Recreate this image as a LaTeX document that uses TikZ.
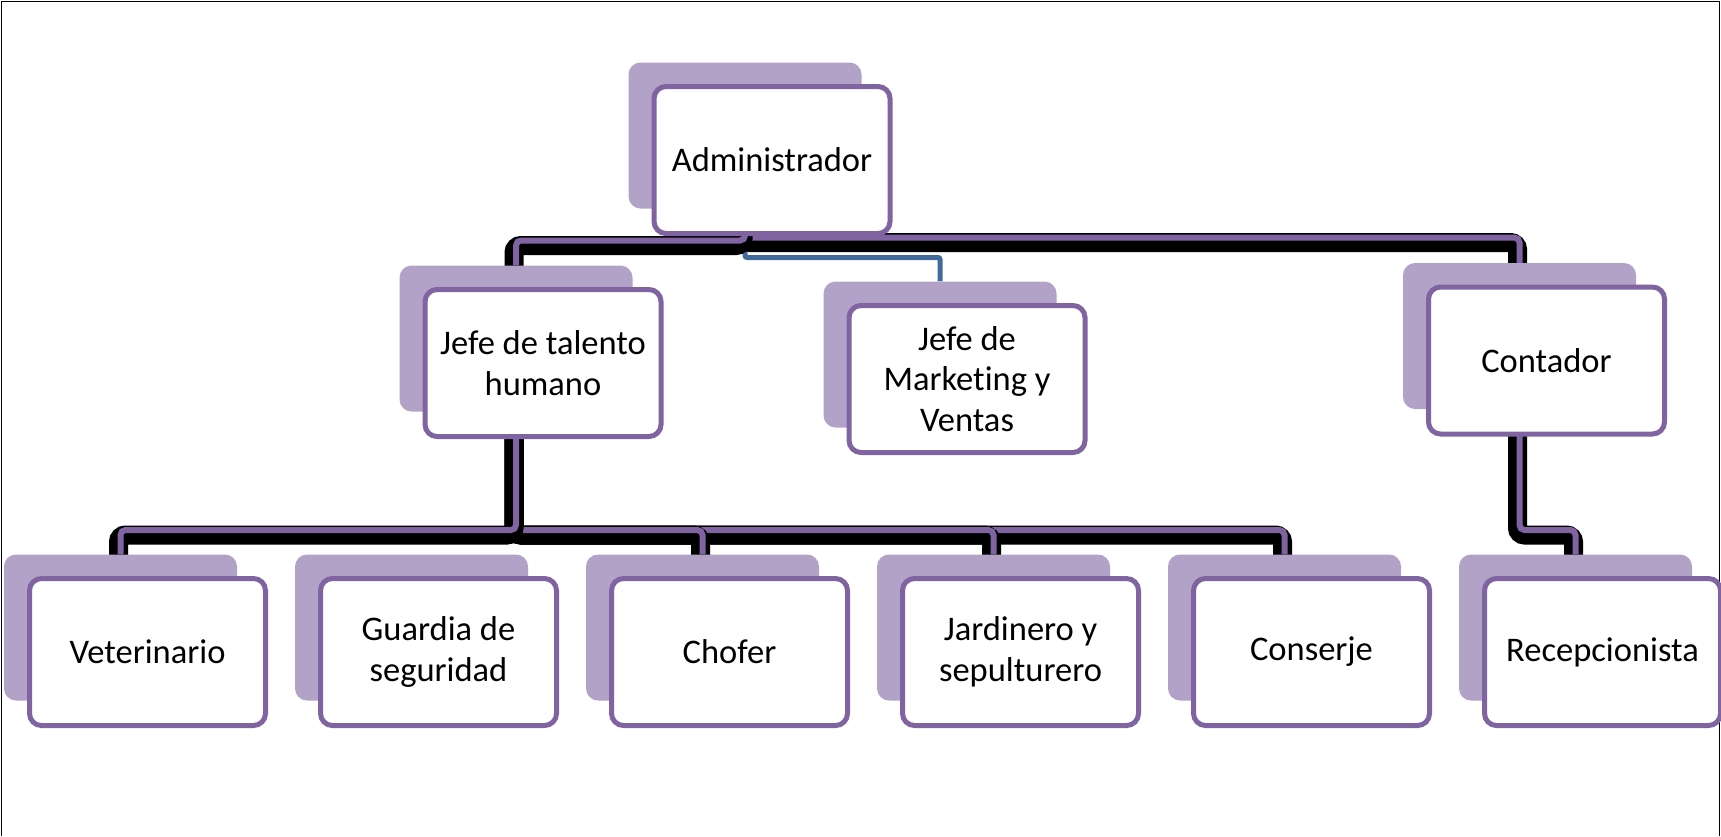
\documentclass[tikz,border=0pt]{standalone}
\usepackage{fontspec}
\setmainfont{Carlito}[Ligatures=NoCommon]
\usetikzlibrary{calc,backgrounds}
\definecolor{purp}{HTML}{8064A2}
\definecolor{lilac}{HTML}{B3A2C7}
\definecolor{blueln}{HTML}{41699A}
\tikzset{
 shbox/.style={fill=lilac, rounded corners=12pt, minimum width=233pt, minimum height=146pt, inner sep=0pt},
 fbox/.style={draw=purp, line width=5pt, fill=white, rounded corners=12pt, minimum width=236pt, minimum height=147pt, inner sep=0pt, align=center, font=\fontsize{34.5}{40.5}\selectfont},
 blackln/.style={draw=black, line width=19pt, rounded corners=7pt, transform canvas={xshift=-2pt,yshift=-5pt}},
 purpln/.style={draw=purp, line width=6pt, rounded corners=5pt},
 bluecon/.style={draw=blueln, line width=5pt, rounded corners=2pt},
 frameln/.style={draw=black, line width=1.8pt}
}
\newcommand\orgbox[3]{\node[shbox] (#1-s) at ($(#2)+(-27,-24.5)$) {}; \node[fbox] (#1) at (#2) {#3};}
\newcommand\orgconn[1]{\draw[blackln] #1; \draw[purpln] #1;}
\begin{document}
\begin{tikzpicture}[x=1pt,y=-1pt]
\useasboundingbox (0,0) rectangle (1721,836);
\draw[frameln] (1.5,836) -- (1.5,1.5) -- (1719.5,1.5) -- (1719.5,836);
\orgbox{adm}{772,160}{Administrador}
\orgbox{tal}{543,363}{Jefe de talento\\humano}
\orgbox{mkt}{967,379}{Jefe de\\Marketing y\\Ventas}
\orgbox{con}{1546.5,360.5}{Contador}
\orgbox{vet}{147.5,652}{Veterinario}
\orgbox{gua}{438.5,652}{Guardia de\\seguridad}
\orgbox{cho}{729.5,652}{Chofer}
\orgbox{jar}{1020.5,652}{Jardinero y\\sepulturero}
\orgbox{cons}{1311.5,652}{Conserje}
\orgbox{rec}{1602.5,652}{Recepcionista}
\coordinate (yL) at (0,240.5);
\coordinate (yR) at (0,237.5);
\coordinate (yBl) at (0,257.5);
\coordinate (yB) at (0,530);
\begin{scope}[on background layer]
\draw[bluecon] (adm-s.south) -- (adm-s.south |- yBl) -| (mkt-s.north);
\orgconn{(adm-s.south) -- (adm-s.south |- yR) -| (con-s.north)}
\orgconn{(adm-s.south) -- (adm-s.south |- yL) -| (tal-s.north)}
\orgconn{(tal-s.south) -- (tal-s.south |- yB) -| (cons-s.north)}
\orgconn{(tal-s.south) -- (tal-s.south |- yB) -| (jar-s.north)}
\orgconn{(tal-s.south) -- (tal-s.south |- yB) -| (cho-s.north)}
\orgconn{(tal-s.south) -- (tal-s.south |- yB) -| (vet-s.north)}
\orgconn{(con-s.south) -- (con-s.south |- yB) -| (rec-s.north)}
\end{scope}
\end{tikzpicture}
\end{document}
